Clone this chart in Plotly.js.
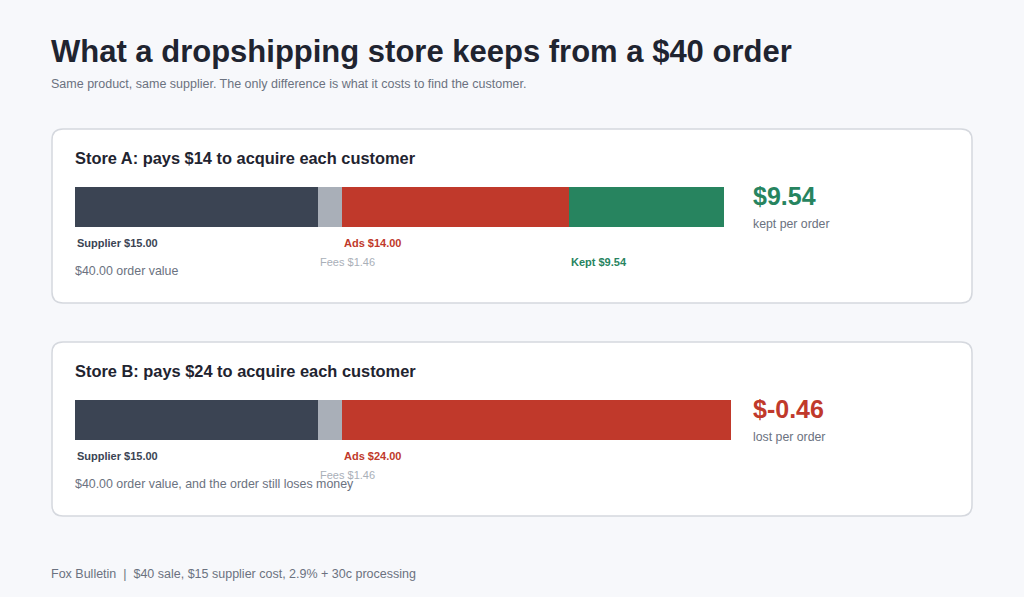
<!DOCTYPE html>
<html>
<head>
<meta charset="utf-8">
<script src="https://cdn.plot.ly/plotly-3.0.1.min.js"></script>
<style>
  html, body { margin: 0; padding: 0; background: #f7f8fb; }
  #chart { width: 1024px; height: 597px; }
</style>
</head>
<body>
<div id="chart"></div>
<script>
// order economics
var orderValue = 40;
var supplierCost = 15;
var feesCost = 1.46;
var adsCost = [14, 24];
var storeNames = ['Store A', 'Store B'];
var segmentNames = ['Supplier', 'Fees', 'Ads', 'Kept'];
var segmentColors = ['#3b4453', '#a9afb8', '#c0392b', '#27845f'];

var W = 1024, H = 597;
function px(x) { return x / W; }
function py(y) { return 1 - y / H; }
function money(v) { return '$' + v.toFixed(2); }

function roundRect(x0, y0, x1, y1, r)
{
    var p = 'M' + px(x0 + r) + ',' + py(y0);
    p += ' L' + px(x1 - r) + ',' + py(y0);
    p += ' Q' + px(x1) + ',' + py(y0) + ' ' + px(x1) + ',' + py(y0 + r);
    p += ' L' + px(x1) + ',' + py(y1 - r);
    p += ' Q' + px(x1) + ',' + py(y1) + ' ' + px(x1 - r) + ',' + py(y1);
    p += ' L' + px(x0 + r) + ',' + py(y1);
    p += ' Q' + px(x0) + ',' + py(y1) + ' ' + px(x0) + ',' + py(y1 - r);
    p += ' L' + px(x0) + ',' + py(y0 + r);
    p += ' Q' + px(x0) + ',' + py(y0) + ' ' + px(x0 + r) + ',' + py(y0) + ' Z';
    return p;
}

var font = 'Liberation Sans, Arial, sans-serif';
var traces = [];
var annotations = [];
var shapes = [];
var layout = {
    width: W, height: H,
    margin: {l: 0, r: 0, t: 0, b: 0},
    paper_bgcolor: '#f7f8fb',
    plot_bgcolor: 'rgba(0,0,0,0)',
    barmode: 'stack',
    bargap: 0,
    showlegend: false,
    font: {family: font}
};

var cardTop = [129, 342];
var totals = [];
for (var iii = 0; iii < storeNames.length; iii++)
{
    totals.push(supplierCost + feesCost + adsCost[iii] + Math.max(0, orderValue - supplierCost - feesCost - adsCost[iii]));
}
var xmax = Math.max.apply(null, totals);

for (iii = 0; iii < storeNames.length; iii++)
{
    var cardY = cardTop[iii];
    var kept = orderValue - supplierCost - feesCost - adsCost[iii];
    var values = [supplierCost, feesCost, adsCost[iii], kept];
    var xa = iii == 0 ? 'x' : 'x2';
    var ya = iii == 0 ? 'y' : 'y2';
    var axName = iii == 0 ? '' : '2';

    shapes.push({
        type: 'path', xref: 'paper', yref: 'paper',
        path: roundRect(52, cardY, 972, cardY + 174, 11),
        fillcolor: '#ffffff', line: {color: '#d5d8de', width: 1.5}, layer: 'below'
    });

    var start = 0;
    var starts = [];
    for (var s = 0; s < values.length; s++)
    {
        starts.push(start);
        if (values[s] <= 0) continue;
        traces.push({
            type: 'bar', orientation: 'h',
            x: [values[s]], y: [storeNames[iii]],
            xaxis: xa, yaxis: ya,
            marker: {color: segmentColors[s], line: {width: 0}},
            width: 1,
            hoverinfo: 'skip'
        });
        start += values[s];
    }

    layout['xaxis' + axName] = {
        domain: [px(75), px(731)], range: [0, xmax], anchor: ya,
        visible: false, fixedrange: true
    };
    layout['yaxis' + axName] = {
        domain: [py(cardY + 98), py(cardY + 58)], range: [-0.5, 0.5],
        anchor: xa, visible: false, fixedrange: true
    };

    // card title
    annotations.push({
        xref: 'paper', yref: 'paper', x: px(73), y: py(cardY + 29),
        xanchor: 'left', yanchor: 'middle', showarrow: false,
        text: '<b>' + storeNames[iii] + ': pays $' + adsCost[iii] + ' to acquire each customer</b>',
        font: {size: 16.4, color: '#1f2430'}
    });

    // segment labels under the bar
    var labelRows = [0, 1, 0, 1];
    var labelColors = ['#3b4453', '#a9afb8', '#c0392b', '#27845f'];
    for (s = 0; s < values.length; s++)
    {
        if (values[s] <= 0) continue;
        var txt = segmentNames[s] + ' ' + money(values[s]);
        if (s == 0 || s == 2 || s == 3) txt = '<b>' + txt + '</b>';
        annotations.push({
            xref: xa, yref: 'paper', x: starts[s], y: py(cardY + 114 + labelRows[s] * 19),
            xanchor: 'left', yanchor: 'middle', xshift: 0, showarrow: false,
            text: txt, font: {size: 11, color: labelColors[s]}
        });
    }

    // order value note
    annotations.push({
        xref: 'paper', yref: 'paper', x: px(73), y: py(cardY + 142),
        xanchor: 'left', yanchor: 'middle', showarrow: false,
        text: money(orderValue) + ' order value' + (kept < 0 ? ', and the order still loses money' : ''),
        font: {size: 12.4, color: '#6b7280'}
    });

    // big result
    var resColor = kept < 0 ? '#c0392b' : '#27845f';
    annotations.push({
        xref: 'paper', yref: 'paper', x: px(751), y: py(cardY + 67),
        xanchor: 'left', yanchor: 'middle', showarrow: false,
        text: '<b>' + (kept < 0 ? '$-' + Math.abs(kept).toFixed(2) : money(kept)) + '</b>',
        font: {size: 25, color: resColor}
    });
    annotations.push({
        xref: 'paper', yref: 'paper', x: px(751), y: py(cardY + 95),
        xanchor: 'left', yanchor: 'middle', showarrow: false,
        text: kept < 0 ? 'lost per order' : 'kept per order',
        font: {size: 12.3, color: '#6b7280'}
    });
}

annotations.push({
    xref: 'paper', yref: 'paper', x: px(49), y: py(52),
    xanchor: 'left', yanchor: 'middle', showarrow: false,
    text: '<b>What a dropshipping store keeps from a $40 order</b>',
    font: {size: 31, color: '#1f2430'}
});
annotations.push({
    xref: 'paper', yref: 'paper', x: px(49), y: py(84),
    xanchor: 'left', yanchor: 'middle', showarrow: false,
    text: 'Same product, same supplier. The only difference is what it costs to find the customer.',
    font: {size: 12.5, color: '#6b7280'}
});
annotations.push({
    xref: 'paper', yref: 'paper', x: px(49), y: py(574),
    xanchor: 'left', yanchor: 'middle', showarrow: false,
    text: 'Fox Bulletin  |  $40 sale, $15 supplier cost, 2.9% + 30c processing',
    font: {size: 12.5, color: '#6b7280'}
});

layout.shapes = shapes;
layout.annotations = annotations;
Plotly.newPlot('chart', traces, layout, {displayModeBar: false, staticPlot: true});
</script>
</body>
</html>
